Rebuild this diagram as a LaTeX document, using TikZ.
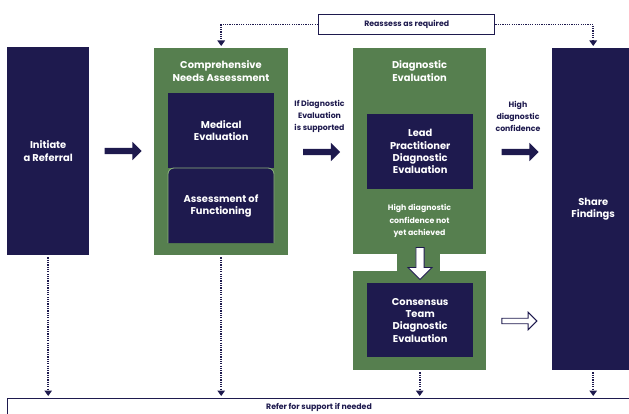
\documentclass[tikz,border=0pt]{standalone}
\usepackage{fontspec}
\setmainfont{Poppins}
\usetikzlibrary{shapes.arrows,arrows.meta}

\definecolor{navy}{HTML}{1E1A4E}
\definecolor{leaf}{HTML}{567F4F}
\definecolor{leaflight}{HTML}{8DB27E}

\tikzset{
  darkbox/.style={fill=navy, anchor=north west, inner sep=0pt},
  greenbox/.style={fill=leaf, anchor=north west, inner sep=0pt},
  boxtext/.style={text=white, font=\bfseries\fontsize{9.9}{12.3}\selectfont, align=center},
  smalltext/.style={font=\bfseries\fontsize{7.8}{12.2}\selectfont, align=center},
  fatarrow/.style={single arrow, fill=navy, inner sep=3pt, minimum height=37pt,
    single arrow head extend=6pt},
  hollowarrow/.style={single arrow, fill=white, draw=navy, line width=0.9pt},
  dotline/.style={navy, line width=1.6pt, dash pattern=on 1.2pt off 1.1pt,
    -{Triangle[width=7.5pt,length=5.5pt]}},
  notebox/.style={draw=navy, line width=1.4pt, fill=white, anchor=north west, inner sep=0pt}
}

\begin{document}
\begin{tikzpicture}[x=1pt,y=-1pt]
\useasboundingbox (0,0) rectangle (629,414);

% Initiate a Referral
\node[darkbox, boxtext, minimum width=82pt, minimum height=208pt] (initiate) at (7,47) {Initiate\\a Referral};

% Comprehensive Needs Assessment
\node[greenbox, minimum width=134pt, minimum height=207pt] (cna) at (154,48) {};
\node[boxtext] (cnatitle) at (221,71) {Comprehensive\\Needs Assessment};
\node[darkbox, boxtext, minimum width=106pt, minimum height=75pt] (medical) at (168,93) {Medical\\Evaluation};
\draw[fill=navy, draw=leaflight, line width=0.8pt, rounded corners=6pt]
  (168,243) -- (168,168) -- (274,168) -- (274,243);
\node[boxtext] (functioning) at (221,206) {Assessment of\\Functioning};

% Diagnostic Evaluation
\node[greenbox, minimum width=133pt, minimum height=206pt] (diagup) at (353,48) {};
\fill[leaf] (397,253) rectangle (440,272);
\node[greenbox, minimum width=133pt, minimum height=99pt] (diaglow) at (353,271) {};
\node[boxtext] (diagtitle) at (419.5,71) {Diagnostic\\Evaluation};
\node[darkbox, boxtext, minimum width=106pt, minimum height=75pt] (lead) at (367,114) {Lead\\Practitioner\\Diagnostic\\Evaluation};
\node[smalltext, text=white] (notyet) at (419.5,221) {High diagnostic\\confidence not\\yet achieved};
\node[darkbox, boxtext, minimum width=106pt, minimum height=74pt] (consensus) at (367,283) {Consensus\\Team\\Diagnostic\\Evaluation};

% Share Findings
\node[darkbox, boxtext, minimum width=82pt, minimum height=322pt] (share) at (552,48) {Share\\Findings};

% Arrows
\node[fatarrow] (arr1) at (121.5,151) {};
\node[fatarrow] (arr2) at (320,152) {};
\node[fatarrow] (arr3) at (518.5,152) {};
\node[hollowarrow, inner sep=2.3pt, minimum height=35pt, single arrow head extend=6pt] (arr4) at (518,321) {};
\node[hollowarrow, rotate=-90, inner sep=3.6pt, minimum height=32pt, single arrow head extend=8pt] (arr5) at (420,261.5) {};

% Annotations
\node[smalltext, text=navy] (ifdiag) at (319.5,116.5) {If Diagnostic\\Evaluation\\is supported};
\node[smalltext, text=navy] (highconf) at (518,116.5) {High\\diagnostic\\confidence};

% Reassess
\node[notebox, smalltext, text=navy, minimum width=176pt, minimum height=20pt] (reassess) at (318,14) {Reassess as required};
\draw[dotline, shorten >=2pt] (reassess.west) -| (cna.north);
\draw[dotline, shorten >=2pt] (reassess.east) -| (share.north);

% Refer for support
\node[notebox, minimum width=624pt, minimum height=30pt] (support) at (7,398) {};
\node[smalltext, text=navy] (supporttext) at (319,407.5) {Refer for support if needed};
\draw[dotline, shorten <=2pt, shorten >=2pt] (initiate.south) -- (initiate.south |- support.north);
\draw[dotline, shorten <=2pt, shorten >=2pt] (cna.south) -- (cna.south |- support.north);
\draw[dotline, shorten <=2pt, shorten >=2pt] (diaglow.south) -- (diaglow.south |- support.north);
\draw[dotline, shorten <=2pt, shorten >=2pt] (share.south) -- (share.south |- support.north);

\end{tikzpicture}
\end{document}
